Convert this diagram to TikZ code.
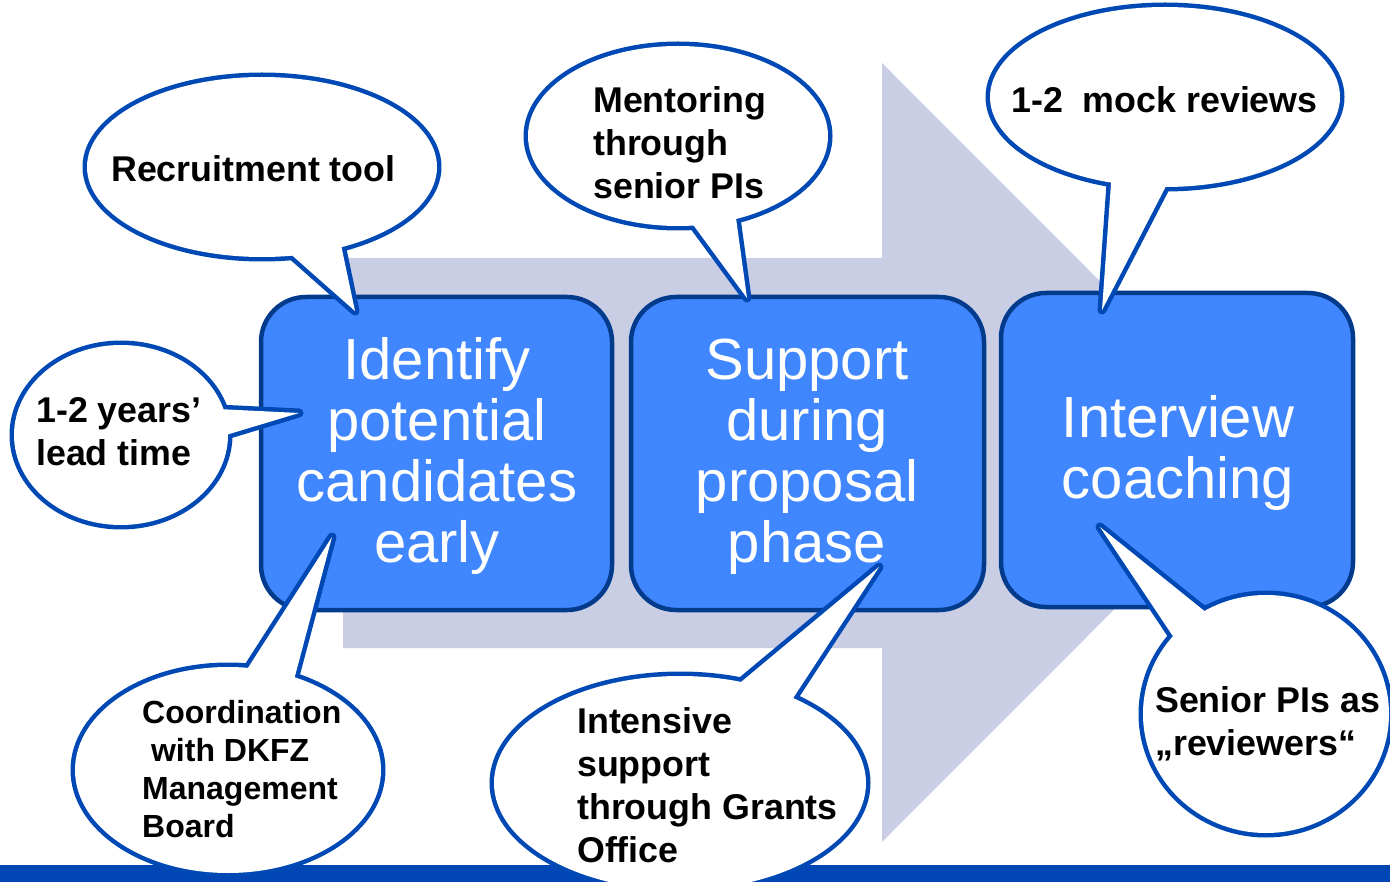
\documentclass[tikz,border=0pt]{standalone}
\usepackage{fontspec}
\setmainfont{Liberation Sans}
\usetikzlibrary{calc}
\definecolor{arrowc}{HTML}{C9CEE5}
\definecolor{boxfill}{HTML}{4087FF}
\definecolor{boxline}{HTML}{023A8C}
\definecolor{bubline}{HTML}{0049B5}
\definecolor{barc}{HTML}{0046B4}
\newcommand\speechbubble[7]{%
  \draw[bubline, line width=9pt, line join=round] (#1,#2) ellipse [x radius=#3, y radius=#4];
  \draw[bubline, line width=9pt, line join=round] ($(#5)!10pt!(#1,#2)$) -- (#6) -- ($(#7)!10pt!(#1,#2)$);
  \fill[white] (#1,#2) ellipse [x radius=#3, y radius=#4];
  \fill[white] ($(#5)!10pt!(#1,#2)$) -- (#6) -- ($(#7)!10pt!(#1,#2)$) -- cycle;
}
\begin{document}
\begin{tikzpicture}[x=1pt,y=-1pt,
  stepbox/.style={draw=boxline, fill=boxfill, line width=4.5pt, rounded corners=45pt, inner sep=0pt},
  boxtext/.style={text=white, font=\fontsize{58}{61}\selectfont, inner sep=0pt, anchor=base},
  bubtext/.style={text=black, font=\fontsize{35.8}{43}\bfseries\selectfont, inner sep=0pt, anchor=base west},
  smalltext/.style={bubtext, font=\fontsize{32}{38.3}\bfseries\selectfont},
]
\useasboundingbox (0,0) rectangle (1390,882);
% big background arrow
\fill[arrowc] (343,258) -- (882,258) -- (882,63) -- (1271,452.5) -- (882,842) -- (882,648) -- (343,648) -- cycle;
% bottom bar
\fill[barc] (0,865) rectangle (1390,882);
% process boxes
\node[stepbox, minimum width=351pt, minimum height=313pt] (b1) at (436.5,453.5) {};
\node[stepbox, minimum width=353pt, minimum height=313pt] (b2) at (807.5,453.5) {};
\node[stepbox, minimum width=352pt, minimum height=314pt] (b3) at (1177,450) {};
\node[boxtext] (t1) at (437,380) {\begin{tabular}[t]{@{}c@{}}Identify\\potential\\candidates\\early\end{tabular}};
\node[boxtext] (t2) at (807,380) {\begin{tabular}[t]{@{}c@{}}Support\\during\\proposal\\phase\end{tabular}};
\node[boxtext] (t3) at (1178,438) {\begin{tabular}[t]{@{}c@{}}Interview\\coaching\end{tabular}};
% speech bubbles
\speechbubble{262}{167}{175}{90}{283,255}{355,311}{347,245}
\speechbubble{678}{136}{150}{90}{687,225}{747,298}{741,218}
\speechbubble{1165}{97}{175}{90}{1106,182}{1102,310}{1172,186}
\speechbubble{121}{435}{107}{90}{222,406}{299,413}{227,438}
\speechbubble{228}{770}{153}{103}{243,668}{332,537}{298,680}
\speechbubble{680}{783}{186}{107}{734,683}{879,567}{795,702}
\speechbubble{1266}{714}{123}{119}{1173,642}{1100,527}{1212,612}
% bubble texts
\node[bubtext] (s1) at (111,182) {Recruitment tool};
\node[bubtext] (s2) at (593,113) {\begin{tabular}[t]{@{}l@{}}Mentoring\\through\\senior PIs\end{tabular}};
\node[bubtext] (s3) at (1011,113) {1-2\ \ mock reviews};
\node[bubtext] (s4) at (36,423) {\begin{tabular}[t]{@{}l@{}}1-2 years’\\lead time\end{tabular}};
\node[smalltext] (s5) at (142,723) {\begin{tabular}[t]{@{}l@{}}Coordination\\\ with DKFZ\\Management\\Board\end{tabular}};
\node[bubtext] (s6) at (577,733) {\begin{tabular}[t]{@{}l@{}}Intensive\\support\\through Grants\\Office\end{tabular}};
\node[bubtext] (s7) at (1155,712) {\begin{tabular}[t]{@{}l@{}}Senior PIs as\\„reviewers“\end{tabular}};
\end{tikzpicture}
\end{document}
